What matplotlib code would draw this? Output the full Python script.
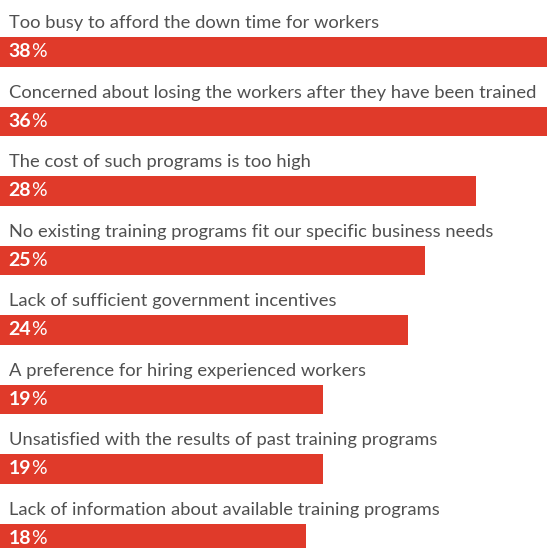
import matplotlib.pyplot as plt

reasons = [
    "Too busy to afford the down time for workers",
    "Concerned about losing the workers after they have been trained",
    "The cost of such programs is too high",
    "No existing training programs fit our specific business needs",
    "Lack of sufficient government incentives",
    "A preference for hiring experienced workers",
    "Unsatisfied with the results of past training programs",
    "Lack of information about available training programs",
]
shares = [38, 36, 28, 25, 24, 19, 19, 18]

red = "#e03a2a"
grey = "#505050"

fig = plt.figure(figsize=(5.47, 5.48), dpi=100)
ax = fig.add_axes([0, 0, 1, 1])

pos = list(range(len(reasons)))
ax.barh(pos, shares, height=0.43, color=red, linewidth=0)

for i, (txt, v) in enumerate(zip(reasons, shares)):
    ax.text(0.55, i - 0.345, txt, fontsize=13.2, color=grey,
            family="Lato", fontweight="normal", va="baseline", ha="left")
    num = ax.text(0.5, i, str(v), fontsize=14, color="white",
                  family="Lato", fontweight="bold", va="center", ha="left")
    ax.annotate("%", xycoords=num, xy=(1, 0.5), va="center", ha="left",
                fontsize=14, color="white", family="Lato", fontweight="normal")

ax.set_xlim(0, 32.2)
ax.set_ylim(7.137, -0.748)
ax.axis("off")

plt.savefig("out.png", dpi=100)
